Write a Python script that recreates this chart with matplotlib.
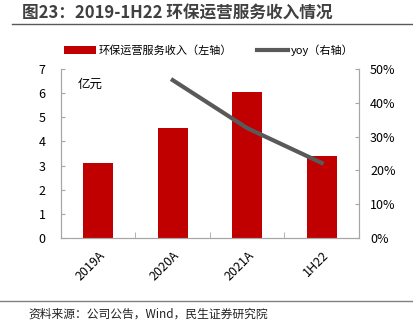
import matplotlib
matplotlib.use("Agg")
import matplotlib.pyplot as plt
import numpy as np

plt.rcParams['font.family'] = ['Noto Sans CJK SC', 'DejaVu Sans']

categories = ["2019A", "2020A", "2021A", "1H22"]
revenue = [3.1, 4.55, 6.05, 3.4]
yoy_cats = ["2020A", "2021A", "1H22"]
yoy = [46.7, 32.5, 22.2]
left_ticks = [0, 1, 2, 3, 4, 5, 6, 7]
right_ticks = [0, 10, 20, 30, 40, 50]

W, H = 414, 330
fig = plt.figure(figsize=(W/100, H/100), dpi=100)
ax = fig.add_axes([61/W, 1-238/H, (359-61)/W, (238-69)/H])
ax2 = ax.twinx()

x = np.arange(len(categories))
ax.bar(x, revenue, width=0.4, color='#C00000', label='环保运营服务收入（左轴）', zorder=2)
yx = [categories.index(c) for c in yoy_cats]
ax2.plot(yx, yoy, color='#595959', lw=3, label='yoy（右轴）')

ax.set_xlim(-0.5, len(categories)-0.5)
ax.set_ylim(0, 7)
ax2.set_ylim(0, 50)
ax.set_yticks(left_ticks)
ax.set_yticklabels([str(v) for v in left_ticks], fontsize=9)
ax2.set_yticks(right_ticks)
ax2.set_yticklabels([f"{v}%" for v in right_ticks], fontsize=9)
ax.set_xticks(x)
ax.set_xticklabels(categories, rotation=45, ha='right', rotation_mode='anchor', fontsize=9)
ax.tick_params(axis='x', length=0, pad=8)
ax.set_xticks(np.arange(-0.5, len(categories)), minor=True)
ax.tick_params(axis='x', which='minor', direction='in', length=4, color='#A6A6A6')
ax.tick_params(axis='y', direction='in', length=3, color='#A6A6A6', pad=11)
ax2.tick_params(axis='y', direction='in', length=3, color='#A6A6A6', pad=8)

for a in (ax, ax2):
    for s in a.spines.values():
        s.set_color('#A6A6A6')
        s.set_linewidth(0.8)
    a.spines['top'].set_visible(False)

ax.text(0.055, 0.95, '亿元', transform=ax.transAxes, fontsize=9, va='top')

# legend
h1, l1 = ax.get_legend_handles_labels()
h2, l2 = ax2.get_legend_handles_labels()
fig.legend(h1 + h2, l1 + l2, loc='center left', bbox_to_anchor=(60/W, 1-50/H), ncol=2,
           frameon=False, fontsize=8, handlelength=2.8, columnspacing=2.2, handletextpad=0.3,
           borderaxespad=0)

# title and footer
fig.text(22/W, 1-14/H, '图23：2019-1H22 环保运营服务收入情况', fontsize=12, fontweight='bold',
         color='#404040', va='center')
fig.add_artist(plt.Line2D([12/W, 412/W], [1-23.5/H, 1-23.5/H], color='#595959', lw=1))
fig.add_artist(plt.Line2D([0, 412/W], [1-301/H, 1-301/H], color='#808080', lw=1))
fig.text(28/W, 1-314/H, '资料来源：公司公告，Wind，民生证券研究院', fontsize=8.5, color='#222222', va='center')

fig.savefig('out.png', dpi=100)
